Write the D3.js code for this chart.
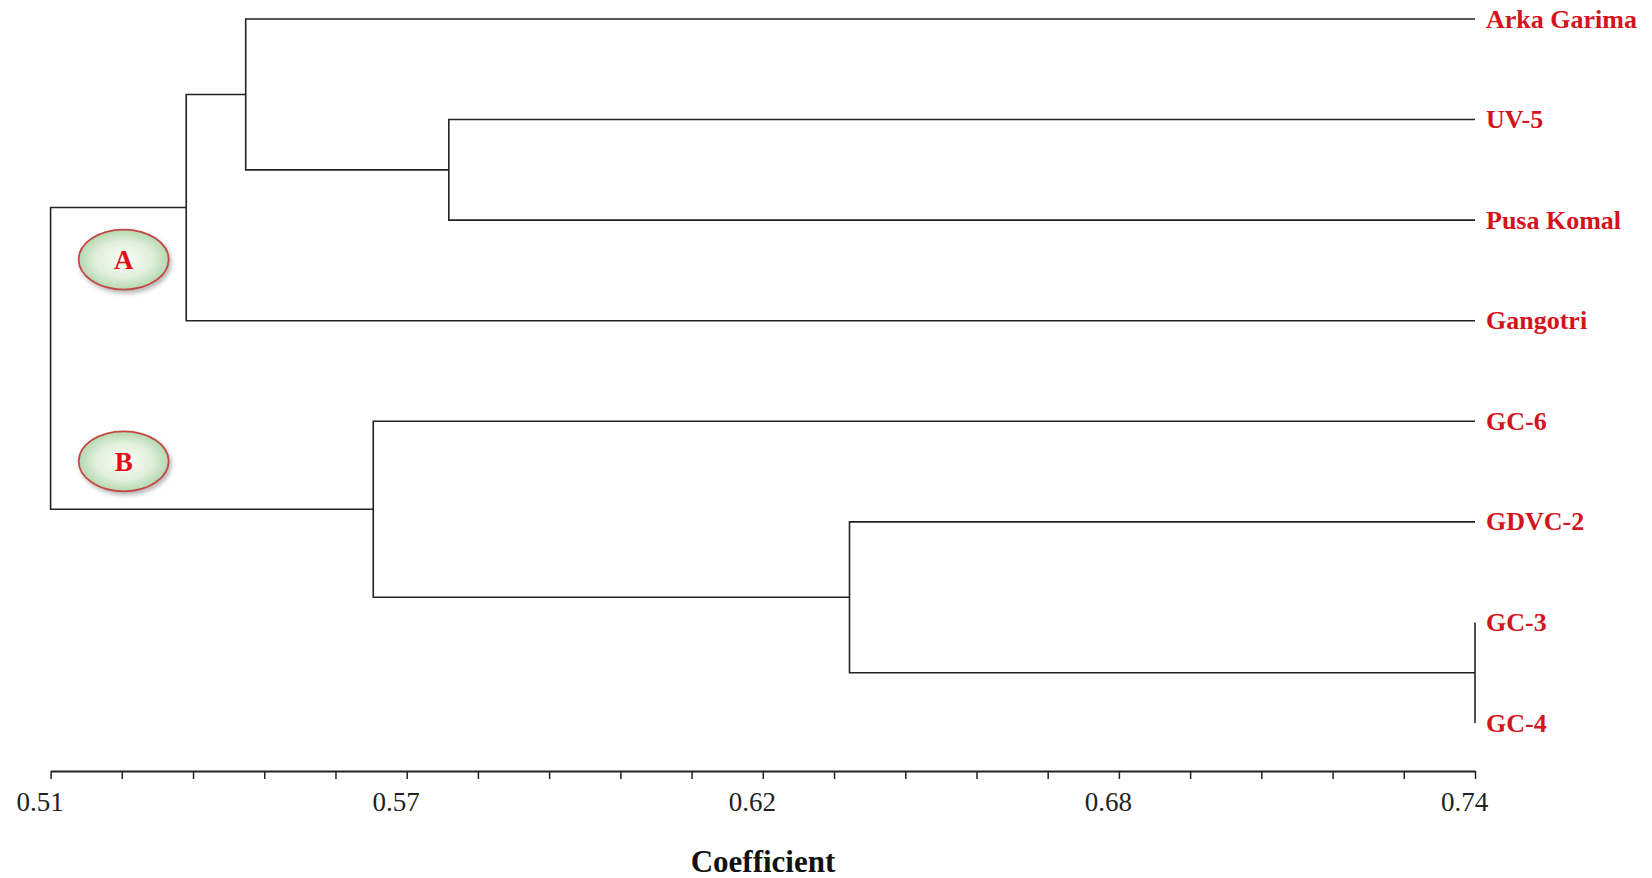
<!DOCTYPE html>
<html>
<head>
<meta charset="utf-8">
<style>
  html, body { margin: 0; padding: 0; background: #fff; }
  svg { display: block; }
</style>
</head>
<body>
<svg width="1652" height="878"></svg>
<script src="https://d3js.org/d3.v7.min.js"></script>
<script>

// leaves, top to bottom
const leaves = ["Arka Garima", "UV-5", "Pusa Komal", "Gangotri", "GC-6", "GDVC-2", "GC-3", "GC-4"];

// merges: [upper child, lower child, coefficient, name]
const merges = [
  ["GC-3", "GC-4", 0.74, "n1"],
  ["UV-5", "Pusa Komal", 0.5743, "n2"],
  ["GDVC-2", "n1", 0.639, "n3"],
  ["Arka Garima", "n2", 0.5415, "n4"],
  ["n4", "Gangotri", 0.5319, "A"],
  ["GC-6", "n3", 0.5621, "B"],
  ["A", "B", 0.51, "root"]
];

// axis
const majorTicks = [0.51, 0.5675, 0.625, 0.6825, 0.74];
const majorLabels = ["0.51", "0.57", "0.62", "0.68", "0.74"];
const clusterTags = ["A", "B"];

const leafHeight = 0.74;

//START: build tree
const lookup = {};
leaves.forEach(function(n) { lookup[n] = {name: n, h: leafHeight}; });
merges.forEach(function(m) {
  lookup[m[3]] = {name: m[3], h: m[2], children: [lookup[m[0]], lookup[m[1]]]};
});
const root = d3.hierarchy(lookup["root"]);
//END: build tree

const svg = d3.select("svg");

const x = d3.scaleLinear().domain([0.51, 0.74]).range([50.6, 1475]);
const yLeaf = d3.scalePoint().domain(leaves).range([19, 723]);

// vertical positions: leaves evenly spaced, parents at midpoint of children
root.eachAfter(function(d) {
  if (d.children) {
    d.y = (d.children[0].y + d.children[d.children.length - 1].y) / 2;
  } else {
    d.y = yLeaf(d.data.name);
  }
});

// defs: gradient + shadow for cluster tags
const defs = svg.append("defs");
const grad = defs.append("radialGradient").attr("id", "tagFill")
  .attr("cx", "50%").attr("cy", "50%").attr("r", "55%");
grad.append("stop").attr("offset", "0%").attr("stop-color", "#fbfdf9");
grad.append("stop").attr("offset", "55%").attr("stop-color", "#e2f0dc");
grad.append("stop").attr("offset", "100%").attr("stop-color", "#a9d2a6");

const shadow = defs.append("filter").attr("id", "tagShadow")
  .attr("x", "-20%").attr("y", "-20%").attr("width", "150%").attr("height", "160%");
shadow.append("feDropShadow").attr("dx", 2).attr("dy", 3).attr("stdDeviation", 2)
  .attr("flood-color", "#888").attr("flood-opacity", 0.6);

// tree links
const g = svg.append("g");
g.selectAll("path.link")
  .data(root.descendants().filter(function(d) { return d.children; }))
  .enter()
  .append("path")
  .attr("class", "link")
  .attr("fill", "none")
  .attr("stroke", "#222")
  .attr("stroke-width", 1.6)
  .attr("d", function(d) {
    const a = d.children[0], b = d.children[1];
    return "M" + x(a.data.h) + "," + a.y +
           "H" + x(d.data.h) +
           "V" + b.y +
           "H" + x(b.data.h);
  });

// leaf labels
g.selectAll("text.leaf")
  .data(root.leaves())
  .enter()
  .append("text")
  .attr("class", "leaf")
  .attr("x", x(leafHeight) + 11)
  .attr("y", function(d) { return d.y; })
  .attr("dy", "0.33em")
  .style("font-family", "'Liberation Serif', 'Times New Roman', serif")
  .style("font-weight", "bold")
  .style("font-size", "26px")
  .style("fill", "#d4141c")
  .text(function(d) { return d.data.name; });

// cluster tags (A, B), placed next to their cluster's node
const tagNodes = clusterTags.map(function(t) {
  return root.descendants().find(function(d) { return d.data.name === t; });
});
const tagX = x(0.5218);
const tagY = [tagNodes[0].y + 52, tagNodes[1].y - 48];
const tags = g.selectAll("g.tag")
  .data(clusterTags)
  .enter()
  .append("g")
  .attr("class", "tag")
  .attr("transform", function(d, i) { return "translate(" + tagX + "," + tagY[i] + ")"; });
tags.append("ellipse")
  .attr("rx", 45).attr("ry", 30)
  .attr("fill", "url(#tagFill)")
  .attr("stroke", "#c44a44")
  .attr("stroke-width", 1.8)
  .attr("filter", "url(#tagShadow)");
tags.append("text")
  .attr("text-anchor", "middle")
  .attr("dy", "0.35em")
  .style("font-family", "'Liberation Serif', 'Times New Roman', serif")
  .style("font-weight", "bold")
  .style("font-size", "27px")
  .style("fill", "#e00f16")
  .text(function(d) { return d; });

// axis: 4 minor ticks between labelled ones
const allTicks = [];
majorTicks.forEach(function(v, i) {
  allTicks.push(v);
  if (i < majorTicks.length - 1) {
    const step = (majorTicks[i + 1] - v) / 5;
    for (let k = 1; k < 5; k++) allTicks.push(v + k * step);
  }
});

const axis = d3.axisBottom(x)
  .tickValues(allTicks)
  .tickSize(8)
  .tickSizeOuter(0)
  .tickFormat(function(v) {
    const i = majorTicks.findIndex(function(m) { return Math.abs(m - v) < 1e-9; });
    return i >= 0 ? majorLabels[i] : "";
  });

const ax = svg.append("g")
  .attr("transform", "translate(0,771)")
  .call(axis);
ax.select(".domain").attr("stroke", "#222").attr("stroke-width", 1.8);
ax.selectAll(".tick line").attr("stroke", "#222").attr("stroke-width", 1.5);
ax.selectAll(".tick text")
  .attr("y", 40)
  .attr("dy", 0)
  .attr("dx", -11)
  .style("font-family", "'Liberation Serif', 'Times New Roman', serif")
  .style("font-size", "27px")
  .style("fill", "#222");

svg.append("text")
  .attr("x", 763)
  .attr("y", 872)
  .attr("text-anchor", "middle")
  .style("font-family", "'Liberation Serif', 'Times New Roman', serif")
  .style("font-weight", "bold")
  .style("font-size", "31px")
  .style("fill", "#111")
  .text("Coefficient");

</script>
</body>
</html>
